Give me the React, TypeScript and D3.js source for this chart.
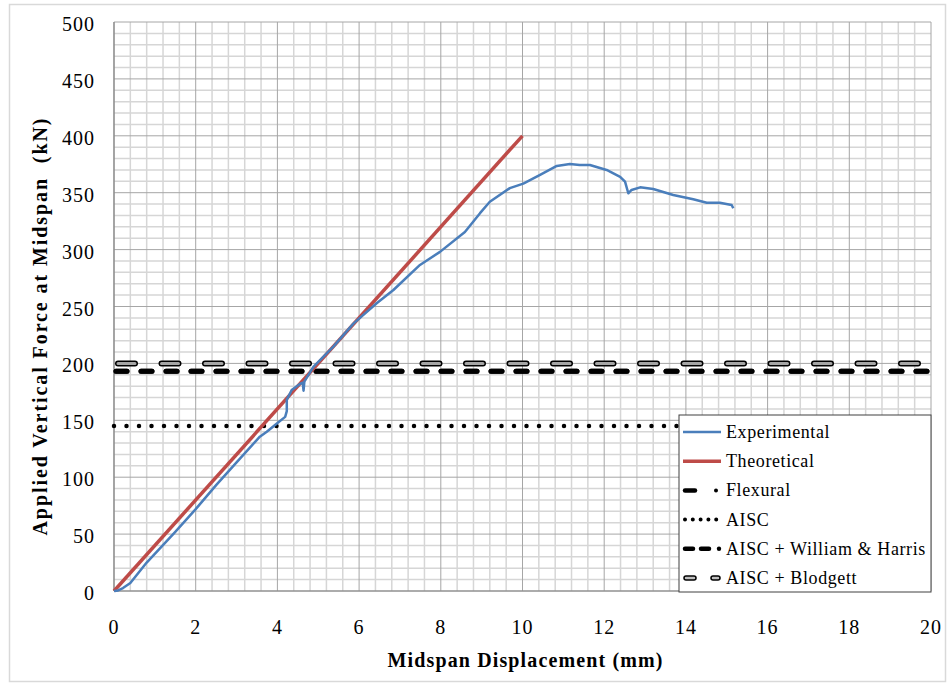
import React from "react";
import * as d3 from "d3";

const expX = [0, 0.1, 0.22, 0.4, 0.8, 1.5, 2.0, 2.5, 3.0, 3.57, 3.74, 3.98, 4.19, 4.23, 4.23, 4.35, 4.55, 4.62, 4.64, 4.66, 4.88, 5.37, 5.86, 6.43, 6.84, 7.49, 7.98, 8.59, 8.96, 9.2, 9.69, 10.02, 10.43, 10.84, 11.16, 11.4, 11.65, 12.06, 12.39, 12.51, 12.59, 12.67, 12.88, 13.2, 13.69, 14.18, 14.51, 14.83, 15.12, 15.16];
const expY = [0, 0.5, 2.6, 7, 25, 52, 72, 93, 113, 135.6, 140, 147, 153, 158, 168, 176.6, 182, 183, 176, 184, 197, 214.7, 235, 252.8, 264.5, 286.5, 298, 315.5, 332, 342, 354, 358, 365.6, 373.5, 375.2, 374.3, 374.3, 370, 364, 359.7, 349.5, 352.4, 354.7, 353.3, 348, 344.2, 341.2, 341.2, 339.2, 336.3];
const theoX = [0, 10];
const theoY = [0, 400];
const flexuralLoad = 193;
const aiscLoad = 145;
const williamHarrisLoad = 193;
const blodgettLoad = 200;
const xTicks = [0, 2, 4, 6, 8, 10, 12, 14, 16, 18, 20];
const yTicks = [0, 50, 100, 150, 200, 250, 300, 350, 400, 450, 500];
const legendLabels = ["Experimental", "Theoretical", "Flexural", "AISC", "AISC + William & Harris", "AISC + Blodgett"];

const W = 948, H = 686;
const L = 114, R = 931, T = 22, B = 591;
const FONT = "Liberation Serif";

export default function App() {
  const x = d3.scaleLinear().domain([0, 20]).range([L, R]);
  const y = d3.scaleLinear().domain([0, 500]).range([B, T]);
  const line = d3.line<[number, number]>().x(d => x(d[0])).y(d => y(d[1]));
  const expPts: [number, number][] = expX.map((v, i) => [v, expY[i]]);
  const theoPts: [number, number][] = theoX.map((v, i) => [v, theoY[i]]);
  const minorX = d3.range(0, 20.001, 0.4).filter(v => Math.abs(v / 2 - Math.round(v / 2)) > 1e-6);
  const minorY = d3.range(0, 500.001, 10).filter(v => v % 50 !== 0);
  const hl = (v: number) => `M${L},${y(v)}H${R}`;

  const lx = 679, ly = 415, lw = 252, lh = 177;
  const rowY = (i: number) => 432 + i * 29.2;
  const sx0 = 683, sx1 = 721;
  const ts = { fontFamily: FONT } as React.CSSProperties;

  return (
    <svg width={W} height={H} style={{ position: "absolute", left: 0, top: 0, background: "#fff" }}>
      <rect x={9.5} y={4.5} width={936} height={677} fill="#fff" stroke="#d9d9d9" strokeWidth={1.5} />
      {minorX.map(v => (
        <line key={"mx" + v} x1={x(v)} x2={x(v)} y1={T} y2={B} stroke="#d6d6d6" strokeWidth={1.5} />
      ))}
      {minorY.map(v => (
        <line key={"my" + v} x1={L} x2={R} y1={y(v)} y2={y(v)} stroke="#d6d6d6" strokeWidth={1.5} />
      ))}
      {xTicks.map(v => (
        <line key={"Mx" + v} x1={x(v)} x2={x(v)} y1={T} y2={B} stroke="#a6a6a6" strokeWidth={1} />
      ))}
      {yTicks.map(v => (
        <line key={"My" + v} x1={L} x2={R} y1={y(v)} y2={y(v)} stroke="#a6a6a6" strokeWidth={1} />
      ))}
      <line x1={L} x2={L} y1={T} y2={B} stroke="#868686" strokeWidth={1.2} />
      <line x1={L} x2={R} y1={B} y2={B} stroke="#868686" strokeWidth={1.2} />

      {/* horizontal design loads */}
      <path d={hl(aiscLoad)} stroke="#000" strokeWidth={4.5} strokeLinecap="round" strokeDasharray="0,12.5" fill="none" />
      <path d={hl(flexuralLoad)} stroke="#000" strokeWidth={5} strokeLinecap="round" strokeDasharray="11,14" strokeDashoffset={-2} fill="none" />
      <path d={hl(williamHarrisLoad)} stroke="#000" strokeWidth={5} strokeLinecap="round" strokeDasharray="11,14" strokeDashoffset={-2} fill="none" />
      <path d={hl(blodgettLoad)} stroke="#000" strokeWidth={6} strokeLinecap="round" strokeDasharray="17,26.5" strokeDashoffset={-4} fill="none" />
      <path d={hl(blodgettLoad)} stroke="#a6a6a6" strokeWidth={3} strokeLinecap="round" strokeDasharray="17,26.5" strokeDashoffset={-4} fill="none" />

      <path d={line(theoPts) || ""} stroke="#be4b48" strokeWidth={3.5} fill="none" />
      <path d={line(expPts) || ""} stroke="#4a7ebb" strokeWidth={2.5} fill="none" strokeLinejoin="round" />

      {yTicks.map(v => (
        <text key={"yt" + v} x={95} y={y(v) + 9} textAnchor="end" fontSize={20} letterSpacing={1} style={ts}>{v}</text>
      ))}
      {xTicks.map(v => (
        <text key={"xt" + v} x={x(v)} y={634} textAnchor="middle" fontSize={20} letterSpacing={1} style={ts}>{v}</text>
      ))}
      <text x={525} y={667} textAnchor="middle" fontSize={20} fontWeight="bold" textLength={275} lengthAdjust="spacing" style={ts}>Midspan Displacement (mm)</text>
      <text transform="translate(47,327) rotate(-90)" textAnchor="middle" fontSize={20} fontWeight="bold" textLength={417} lengthAdjust="spacing" style={{ ...ts, whiteSpace: "pre" }}>Applied Vertical Force at Midspan  (kN)</text>

      {/* legend */}
      <rect x={lx} y={ly} width={lw} height={lh} fill="#fff" stroke="#404040" strokeWidth={1} />
      <line x1={sx0} x2={sx1} y1={rowY(0)} y2={rowY(0)} stroke="#4a7ebb" strokeWidth={2.5} />
      <line x1={sx0} x2={sx1} y1={rowY(1)} y2={rowY(1)} stroke="#be4b48" strokeWidth={3.5} />
      <line x1={sx0 + 2} x2={sx0 + 12} y1={rowY(2)} y2={rowY(2)} stroke="#000" strokeWidth={4.5} strokeLinecap="round" />
      <circle cx={716} cy={rowY(2)} r={2} fill="#000" />
      <path d={`M${sx0 + 2},${rowY(3)}H${sx1}`} stroke="#000" strokeWidth={4} strokeLinecap="round" strokeDasharray="0,7.8" />
      <line x1={sx0 + 2} x2={sx0 + 10} y1={rowY(4)} y2={rowY(4)} stroke="#000" strokeWidth={4.5} strokeLinecap="round" />
      <line x1={sx0 + 18} x2={sx0 + 26} y1={rowY(4)} y2={rowY(4)} stroke="#000" strokeWidth={4.5} strokeLinecap="round" />
      <circle cx={719} cy={rowY(4)} r={2.2} fill="#000" />
      <line x1={sx0 + 3} x2={sx0 + 11} y1={rowY(5)} y2={rowY(5)} stroke="#000" strokeWidth={5.5} strokeLinecap="round" />
      <line x1={sx0 + 3} x2={sx0 + 11} y1={rowY(5)} y2={rowY(5)} stroke="#bfbfbf" strokeWidth={2.5} strokeLinecap="round" />
      <line x1={sx0 + 30} x2={sx0 + 35} y1={rowY(5)} y2={rowY(5)} stroke="#000" strokeWidth={5.5} strokeLinecap="round" />
      <line x1={sx0 + 30} x2={sx0 + 35} y1={rowY(5)} y2={rowY(5)} stroke="#bfbfbf" strokeWidth={2.5} strokeLinecap="round" />
      {legendLabels.map(t => (
        <text key={t} x={726} y={rowY(legendLabels.indexOf(t)) + 6} fontSize={18} letterSpacing={0.6} style={{ ...ts, whiteSpace: "pre" }}>{t}</text>
      ))}
    </svg>
  );
}
